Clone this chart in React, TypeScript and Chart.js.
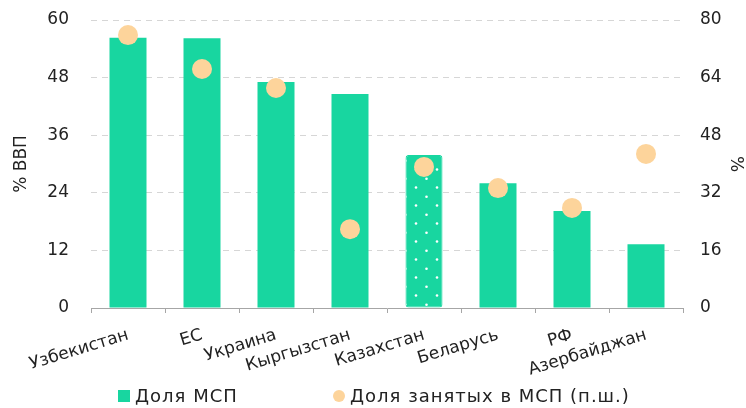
import React, { useEffect, useRef } from "react";
import { Chart, registerables } from "chart.js";

Chart.register(...registerables);

const categories: string[] = [
  "Узбекистан",
  "ЕС",
  "Украина",
  "Кыргызстан",
  "Казахстан",
  "Беларусь",
  "РФ",
  "Азербайджан",
];
const smeShareGdp = [56.3, 56.2, 47.1, 44.6, 31.9, 26.0, 20.2, 13.3];
const smeEmployment = [75.8, 66.4, 61.1, 21.9, 39.2, 33.3, 27.8, 42.8];
const leftTicks = [0, 12, 24, 36, 48, 60];
const rightTicks = [0, 16, 32, 48, 64, 80];
const highlightIndex = 4;
const seriesNames = ["Доля МСП", "Доля занятых в МСП (п.ш.)"];

const GREEN = "#18D6A0";
const PEACH = "#FDD49B";
const FONT = "'DejaVu Sans', Verdana, sans-serif";
const FS = 17;
const LS = "1.5px";

function makePattern(): CanvasPattern | string {
  const c = document.createElement("canvas");
  c.width = 21;
  c.height = 18;
  const g = c.getContext("2d");
  if (!g) return GREEN;
  g.fillStyle = GREEN;
  g.fillRect(0, 0, 21, 18);
  g.fillStyle = "#ffffff";
  g.beginPath();
  g.arc(17, 7.5, 1.3, 0, Math.PI * 2);
  g.fill();
  g.beginPath();
  g.arc(6.5, 16.7, 1.3, 0, Math.PI * 2);
  g.fill();
  g.beginPath();
  g.arc(6.5, -1.3, 1.3, 0, Math.PI * 2);
  g.fill();
  const p = g.createPattern(c, "repeat");
  return p || GREEN;
}

const spacingPlugin = {
  id: "spacing",
  beforeInit(chart: any) {
    (chart.ctx as any).letterSpacing = LS;
  },
};

const legendPlugin = {
  id: "customLegend",
  afterDraw(chart: any) {
    const ctx = chart.ctx as CanvasRenderingContext2D;
    ctx.save();
    (ctx as any).letterSpacing = "1px";
    ctx.font = `18px ${FONT}`;
    ctx.textBaseline = "middle";
    ctx.textAlign = "left";
    const cy = 396;
    ctx.fillStyle = GREEN;
    ctx.fillRect(118, cy - 6, 12, 12);
    ctx.fillStyle = "#222";
    ctx.fillText(chart.data.datasets[0].label, 135, cy + 1);
    ctx.fillStyle = PEACH;
    ctx.beginPath();
    ctx.arc(339, cy, 6, 0, Math.PI * 2);
    ctx.fill();
    ctx.fillStyle = "#222";
    ctx.fillText(chart.data.datasets[1].label, 350, cy + 1);
    ctx.restore();
  },
};

export default function App() {
  const ref = useRef<HTMLCanvasElement | null>(null);
  useEffect(() => {
    if (!ref.current) return;
    const pattern = makePattern();
    const barColors = smeShareGdp.map((_, i) => (i === highlightIndex ? pattern : GREEN));
    const borderW = smeShareGdp.map((_, i) => (i === highlightIndex ? 1 : 0));
    const tickFont = { family: FONT, size: FS };
    const chart = new Chart(ref.current, {
      type: "bar",
      plugins: [spacingPlugin, legendPlugin],
      data: {
        labels: categories,
        datasets: [
          {
            type: "bar",
            label: seriesNames[0],
            data: smeShareGdp,
            backgroundColor: barColors as any,
            borderColor: GREEN,
            borderWidth: borderW,
            borderRadius: smeShareGdp.map((_, i) => (i === highlightIndex ? 3 : 0)) as any,
            borderSkipped: false,
            categoryPercentage: 1,
            barPercentage: 0.5,
            yAxisID: "y",
            order: 2,
          } as any,
          {
            type: "line",
            label: seriesNames[1],
            data: smeEmployment,
            showLine: false,
            pointRadius: 10,
            pointHoverRadius: 10,
            pointBackgroundColor: PEACH,
            pointBorderWidth: 0,
            backgroundColor: PEACH,
            borderColor: PEACH,
            yAxisID: "y1",
            order: 1,
          } as any,
        ],
      },
      options: {
        animation: false,
        responsive: false,
        maintainAspectRatio: false,
        layout: { padding: { top: 20, left: 0, right: 0, bottom: 30 } },
        plugins: {
          legend: { display: false },
          tooltip: { enabled: false },
        },
        scales: {
          x: {
            offset: true,
            grid: {
              offset: true,
              drawOnChartArea: false,
              drawTicks: true,
              tickLength: 5,
              color: "#a6a6a6",
            },
            border: { display: true, color: "#a6a6a6" },
            ticks: {
              minRotation: 17,
              maxRotation: 17,
              autoSkip: false,
              padding: 12,
              color: "#222",
              font: tickFont,
            },
            afterFit: (s: any) => {
              s.height = 70;
            },
          },
          y: {
            position: "left",
            min: 0,
            max: 60,
            afterBuildTicks: (s: any) => {
              s.ticks = leftTicks.map((v) => ({ value: v }));
            },
            grid: { color: "#d6d6d6", drawTicks: true, tickLength: 22, tickColor: "rgba(0,0,0,0)" },
            border: { display: false, dash: [6, 5] },
            ticks: {
              padding: 0,
              color: "#222",
              font: tickFont,
            },
            title: {
              display: true,
              text: "% ВВП",
              color: "#222",
              font: tickFont,
              padding: { top: 11, bottom: 0 },
            },
            afterFit: (s: any) => {
              s.width = 91;
            },
          },
          y1: {
            position: "right",
            min: 0,
            max: 80,
            afterBuildTicks: (s: any) => {
              s.ticks = rightTicks.map((v) => ({ value: v }));
            },
            grid: { drawOnChartArea: false, drawTicks: true, tickLength: 17, tickColor: "rgba(0,0,0,0)" },
            border: { display: false },
            ticks: {
              padding: 0,
              color: "#222",
              font: tickFont,
            },
            title: {
              display: true,
              text: "%",
              color: "#222",
              font: tickFont,
              padding: 0,
            },
            afterFit: (s: any) => {
              s.width = 63;
            },
          },
        },
      },
    });
    return () => chart.destroy();
  }, []);
  return (
    <div style={{ position: "absolute", left: 0, top: 0, width: 746, height: 408, background: "#fff" }}>
      <canvas ref={ref} width={746} height={408} style={{ width: 746, height: 408 }} />
    </div>
  );
}
